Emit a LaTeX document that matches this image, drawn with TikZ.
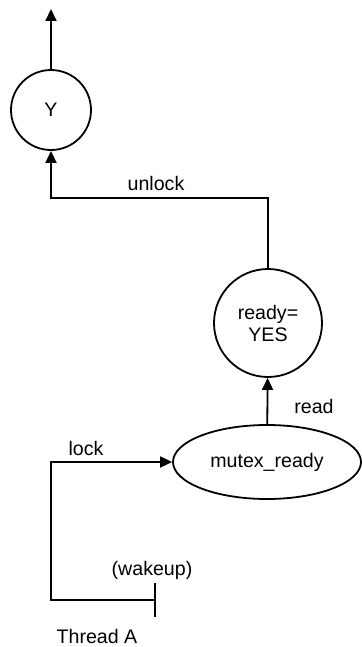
\documentclass[tikz,border=0pt]{standalone}
\usepackage{fontspec}
\setmainfont{Liberation Sans}
\usetikzlibrary{shapes.geometric, arrows.meta}

\begin{document}
\begin{tikzpicture}[x=0.5pt, y=-0.5pt, line width=0.9pt,
		font=\fontsize{9.8}{11}\selectfont,
		state/.style={draw, circle, align=center, inner sep=0pt},
		flow/.style={-{Triangle[length=6pt, width=5.5pt]}}]
	\useasboundingbox (0,0) rectangle (361,647);

		% Result node
		\node[state, minimum size=40pt] (y_node) at (51,110) {Y};

		% Condition node
		\node[state, minimum size=54pt] (ready_node) at (268,323) {ready=\\YES};

		% Mutex
		\node[draw, ellipse, minimum width=94pt, minimum height=37pt, inner sep=0pt] (mutex_node) at (267,462) {mutex\_ready};

		% Turning points
		\coordinate (y_out) at (51,9);
		\coordinate (unlock_turn) at (268,198);
		\coordinate (wake) at (155,600);
		\coordinate (thread_turn) at (51,600);

		% Labels
		\node (unlock_label) at (156,183) {unlock};
		\node (read_label) at (314,406) {read};
		\node (lock_label) at (86,448) {lock};
		\node (wakeup_label) at (152,570) {(wakeup)};
		\node (thread_label) at (97,636) {Thread A};

		% Connectors
		\draw[flow] (y_node) -- (y_out);
		\draw[flow] (ready_node) -- (unlock_turn) -| (y_node);
		\draw[flow] (mutex_node) -- (ready_node);
		\draw[flow] (wake) -- (thread_turn) |- (mutex_node);
		\draw ([yshift=8.5pt]wake) -- ([yshift=-8.5pt]wake);
	\end{tikzpicture}
\end{document}
